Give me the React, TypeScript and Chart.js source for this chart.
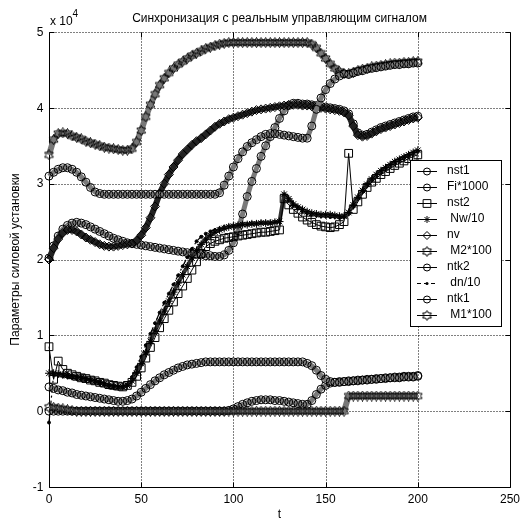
import React, { useEffect, useRef } from 'react';
import { Chart, registerables } from 'chart.js';

Chart.register(...registerables);

// ---------- data (values in units of 10^4) ----------
const T = [
  0, 2.5, 5, 7.5, 10, 12.5, 15, 17.5, 20, 22.5,
  25, 27.5, 30, 32.5, 35, 37.5, 40, 42.5, 45, 47.5,
  50, 52.5, 55, 57.5, 60, 62.5, 65, 67.5, 70, 72.5,
  75, 77.5, 80, 82.5, 85, 87.5, 90, 92.5, 95, 97.5,
  100, 102.5, 105, 107.5, 110, 112.5, 115, 117.5, 120, 122.5,
  125, 127.5, 130, 132.5, 135, 137.5, 140, 142.5, 145, 147.5,
  150, 152.5, 155, 157.5, 160, 162.5, 165, 167.5, 170, 172.5,
  175, 177.5, 180, 182.5, 185, 187.5, 190, 192.5, 195, 197.5,
  200,
];

const NST1 = [
  3.10, 3.15, 3.19, 3.21, 3.21, 3.19, 3.15, 3.09, 3.02, 2.95,
  2.89, 2.87, 2.86, 2.86, 2.86, 2.86, 2.86, 2.86, 2.86, 2.86,
  2.86, 2.86, 2.86, 2.86, 2.86, 2.86, 2.86, 2.86, 2.86, 2.86,
  2.86, 2.86, 2.86, 2.86, 2.86, 2.86, 2.86, 2.88, 2.98, 3.10,
  3.22, 3.33, 3.42, 3.49, 3.54, 3.58, 3.62, 3.65, 3.66, 3.66,
  3.65, 3.64, 3.63, 3.62, 3.61, 3.60, 3.60, 3.76, 3.98, 4.13,
  4.24, 4.32, 4.38, 4.42, 4.45, 4.44, 4.46, 4.48, 4.49, 4.51,
  4.52, 4.53, 4.54, 4.55, 4.56, 4.57, 4.57, 4.58, 4.58, 4.59,
  4.59,
];

const FI1000 = [
  0.32, 0.30, 0.28, 0.27, 0.25, 0.24, 0.22, 0.21, 0.20, 0.19,
  0.18, 0.17, 0.16, 0.15, 0.14, 0.13, 0.13, 0.14, 0.16, 0.20,
  0.25, 0.30, 0.35, 0.40, 0.44, 0.48, 0.51, 0.54, 0.57, 0.59,
  0.61, 0.62, 0.63, 0.64, 0.65, 0.65, 0.65, 0.65, 0.65, 0.65,
  0.65, 0.65, 0.65, 0.65, 0.65, 0.65, 0.65, 0.65, 0.65, 0.65,
  0.65, 0.65, 0.65, 0.65, 0.65, 0.65, 0.63, 0.60, 0.54, 0.47,
  0.42, 0.39, 0.38, 0.38, 0.39, 0.39, 0.40, 0.40, 0.41, 0.41,
  0.42, 0.42, 0.43, 0.43, 0.44, 0.44, 0.44, 0.45, 0.45, 0.45,
  0.46,
];

const NST2 = [
  0.85, 0.42, 0.66, 0.55, 0.50, 0.48, 0.46, 0.44, 0.43, 0.41,
  0.40, 0.38, 0.37, 0.35, 0.34, 0.33, 0.32, 0.34, 0.38, 0.46,
  0.57, 0.70, 0.84, 0.97, 1.10, 1.22, 1.33, 1.44, 1.55, 1.65,
  1.75, 1.86, 1.97, 2.08, 2.17, 2.21, 2.24, 2.26, 2.28, 2.29,
  2.30, 2.31, 2.32, 2.33, 2.34, 2.35, 2.36, 2.36, 2.37, 2.38,
  2.39, 2.80, 2.72, 2.66, 2.61, 2.56, 2.52, 2.49, 2.46, 2.44,
  2.43, 2.42, 2.43, 2.46, 2.50, 3.40, 2.66, 2.76, 2.86, 2.95,
  3.02, 3.07, 3.12, 3.16, 3.20, 3.24, 3.27, 3.30, 3.33, 3.36,
  3.38,
];

const NW10 = [
  0.50, 0.50, 0.49, 0.48, 0.47, 0.46, 0.45, 0.44, 0.43, 0.41,
  0.40, 0.38, 0.36, 0.34, 0.33, 0.32, 0.32, 0.34, 0.40, 0.50,
  0.63, 0.77, 0.92, 1.06, 1.19, 1.32, 1.45, 1.57, 1.69, 1.80,
  1.91, 2.02, 2.12, 2.20, 2.27, 2.32, 2.36, 2.39, 2.41, 2.43,
  2.44, 2.45, 2.46, 2.46, 2.47, 2.47, 2.48, 2.48, 2.48, 2.49,
  2.50, 2.86, 2.80, 2.73, 2.69, 2.66, 2.63, 2.61, 2.60, 2.59,
  2.59, 2.59, 2.58, 2.57, 2.57, 2.62, 2.72, 2.82, 2.91, 2.99,
  3.06, 3.12, 3.17, 3.21, 3.25, 3.29, 3.32, 3.35, 3.38, 3.41,
  3.44,
];

const NV = [
  2.00, 2.15, 2.27, 2.35, 2.39, 2.39, 2.37, 2.33, 2.29, 2.26,
  2.23, 2.20, 2.18, 2.17, 2.17, 2.18, 2.19, 2.20, 2.21, 2.25,
  2.32, 2.42, 2.55, 2.70, 2.87, 3.00, 3.12, 3.22, 3.31, 3.39,
  3.45, 3.51, 3.56, 3.60, 3.65, 3.70, 3.75, 3.79, 3.82, 3.85,
  3.87, 3.89, 3.91, 3.93, 3.95, 3.97, 3.98, 3.99, 4.00, 4.01,
  4.02, 4.03, 4.04, 4.04, 4.04, 4.03, 4.03, 4.02, 4.01, 4.00,
  3.99, 3.98, 3.97, 3.96, 3.94, 3.90, 3.76, 3.64, 3.62, 3.63,
  3.66, 3.69, 3.72, 3.74, 3.76, 3.78, 3.80, 3.82, 3.84, 3.86,
  3.87,
];

const M2_100 = [
  0.05, 0.05, 0.04, 0.03, 0.02, 0.01, 0, 0, 0, 0,
  0, 0, 0, 0, 0, 0, 0, 0, 0, 0,
  0, 0, 0, 0, 0, 0, 0, 0, 0, 0,
  0, 0, 0, 0, 0, 0, 0, 0, 0, 0,
  0, 0, 0, 0, 0, 0, 0, 0, 0, 0,
  0, 0, 0, 0, 0, 0, 0, 0, 0, 0,
  0, 0, 0, 0, 0, 0.20, 0.20, 0.20, 0.20, 0.20,
  0.20, 0.20, 0.20, 0.20, 0.20, 0.20, 0.20, 0.20, 0.20, 0.20,
  0.20,
];

const NTK2 = [
  0, 0, 0, 0, 0, 0, 0, 0, 0, 0,
  0, 0, 0, 0, 0, 0, 0, 0, 0, 0,
  0, 0, 0, 0, 0, 0, 0, 0, 0, 0,
  0, 0, 0, 0, 0, 0, 0, 0, 0, 0.01,
  0.03, 0.06, 0.09, 0.11, 0.13, 0.14, 0.15, 0.15, 0.15, 0.14,
  0.14, 0.13, 0.12, 0.11, 0.10, 0.09, 0.09, 0.14, 0.22, 0.29,
  0.34, 0.37, 0.38, 0.39, 0.39, 0.40, 0.40, 0.41, 0.41, 0.42,
  0.42, 0.43, 0.43, 0.44, 0.44, 0.45, 0.45, 0.46, 0.46, 0.46,
  0.47,
];

const DN10 = [
  -0.15, 0.48, 0.47, 0.46, 0.45, 0.44, 0.43, 0.42, 0.41, 0.40,
  0.38, 0.36, 0.35, 0.33, 0.32, 0.31, 0.31, 0.35, 0.45, 0.58,
  0.72, 0.87, 1.02, 1.16, 1.30, 1.43, 1.55, 1.67, 1.79, 1.91,
  2.03, 2.14, 2.24, 2.30, 2.34, 2.37, 2.39, 2.41, 2.43, 2.44,
  2.45, 2.46, 2.47, 2.47, 2.48, 2.48, 2.49, 2.49, 2.49, 2.50,
  2.51, 2.84, 2.78, 2.72, 2.68, 2.64, 2.61, 2.59, 2.58, 2.57,
  2.57, 2.56, 2.56, 2.55, 2.56, 2.60, 2.70, 2.80, 2.89, 2.97,
  3.04, 3.10, 3.15, 3.20, 3.24, 3.28, 3.31, 3.34, 3.37, 3.40,
  3.43,
];

const NTK1 = [
  2.02, 2.18, 2.31, 2.40, 2.45, 2.48, 2.49, 2.48, 2.46, 2.43,
  2.40, 2.37, 2.34, 2.31, 2.28, 2.26, 2.24, 2.22, 2.21, 2.20,
  2.19, 2.18, 2.17, 2.16, 2.15, 2.14, 2.13, 2.12, 2.11, 2.10,
  2.09, 2.08, 2.07, 2.06, 2.05, 2.05, 2.04, 2.04, 2.06, 2.12,
  2.22, 2.38, 2.60, 2.83, 3.03, 3.20, 3.36, 3.50, 3.62, 3.74,
  3.86, 3.96, 4.03, 4.06, 4.06, 4.05, 4.05, 4.04, 4.03, 4.02,
  4.01, 4.00, 3.99, 3.98, 3.96, 3.92, 3.79, 3.67, 3.64, 3.65,
  3.68, 3.71, 3.74, 3.76, 3.78, 3.80, 3.82, 3.84, 3.86, 3.88,
  3.89,
];

const M1_100 = [
  3.38, 3.58, 3.66, 3.67, 3.66, 3.63, 3.61, 3.59, 3.56, 3.54,
  3.52, 3.50, 3.48, 3.47, 3.46, 3.45, 3.44, 3.44, 3.46, 3.55,
  3.70, 3.88, 4.04, 4.18, 4.30, 4.39, 4.46, 4.52, 4.57, 4.61,
  4.65, 4.69, 4.72, 4.75, 4.78, 4.80, 4.82, 4.84, 4.85, 4.86,
  4.86, 4.86, 4.86, 4.86, 4.86, 4.86, 4.86, 4.86, 4.86, 4.86,
  4.86, 4.86, 4.86, 4.86, 4.86, 4.86, 4.86, 4.84, 4.79, 4.72,
  4.65, 4.58, 4.52, 4.48, 4.45, 4.45, 4.47, 4.49, 4.51, 4.52,
  4.54, 4.55, 4.56, 4.57, 4.58, 4.59, 4.59, 4.60, 4.60, 4.61,
  4.61,
];

const X_TICKS = [0, 50, 100, 150, 200, 250];
const Y_TICKS = [-1, 0, 1, 2, 3, 4, 5];
const TITLE = 'Синхронизация с реальным управляющим сигналом';
const X_LABEL = 't';
const Y_LABEL = 'Параметры силовой установки';
const LEGEND_NAMES = ['nst1', 'Fi*1000', 'nst2', ' Nw/10', 'nv', ' M2*100', 'ntk2', ' dn/10', 'ntk1', ' M1*100'];
const SERIES = [NST1, FI1000, NST2, NW10, NV, M2_100, NTK2, DN10, NTK1, M1_100];

// ---------- styling ----------
type Mk = 'circle' | 'rect' | 'star' | 'rectRot' | 'hex' | 'dot';
const MARKERS: Mk[] = ['circle', 'circle', 'rect', 'star', 'rectRot', 'hex', 'circle', 'dot', 'circle', 'hex'];
const RADII = [4, 4, 5.5, 4, 4.5, 5, 4, 1.5, 4, 5];
const BAND = ['#7a7a7a', '#7a7a7a', '#000', '#333', '#222', '#777', '#7a7a7a', '#000', '#7a7a7a', '#777'];
const BAND_W = [5, 5, 1, 4, 6, 6, 5, 1.2, 5, 6];
const FONT = '"Liberation Sans", Arial, sans-serif';

function makeHexagram(): HTMLCanvasElement {
  const c = document.createElement('canvas');
  c.width = 11;
  c.height = 11;
  const g = c.getContext('2d')!;
  g.strokeStyle = '#000';
  g.lineWidth = 1;
  g.beginPath();
  for (let k = 0; k < 12; k++) {
    const r = k % 2 === 0 ? 5 : 2.9;
    const a = -Math.PI / 2 + (k * Math.PI) / 6;
    const px = 5.5 + r * Math.cos(a);
    const py = 5.5 + r * Math.sin(a);
    if (k === 0) g.moveTo(px, py);
    else g.lineTo(px, py);
  }
  g.closePath();
  g.stroke();
  return c;
}

function drawMarker(ctx: CanvasRenderingContext2D, mk: Mk, x: number, y: number, r: number, hex: HTMLCanvasElement) {
  ctx.save();
  ctx.strokeStyle = '#000';
  ctx.fillStyle = '#000';
  ctx.lineWidth = 1;
  ctx.setLineDash([]);
  ctx.beginPath();
  if (mk === 'circle') {
    ctx.arc(x, y, r, 0, Math.PI * 2);
    ctx.stroke();
  } else if (mk === 'dot') {
    ctx.arc(x, y, r, 0, Math.PI * 2);
    ctx.fill();
  } else if (mk === 'rect') {
    const s = Math.SQRT1_2 * r;
    ctx.rect(x - s, y - s, 2 * s, 2 * s);
    ctx.stroke();
  } else if (mk === 'rectRot') {
    ctx.moveTo(x - r, y);
    ctx.lineTo(x, y - r);
    ctx.lineTo(x + r, y);
    ctx.lineTo(x, y + r);
    ctx.closePath();
    ctx.stroke();
  } else if (mk === 'star') {
    ctx.moveTo(x - r, y);
    ctx.lineTo(x + r, y);
    ctx.moveTo(x, y - r);
    ctx.lineTo(x, y + r);
    const d = r * Math.SQRT1_2;
    ctx.moveTo(x - d, y - d);
    ctx.lineTo(x + d, y + d);
    ctx.moveTo(x - d, y + d);
    ctx.lineTo(x + d, y - d);
    ctx.stroke();
  } else if (mk === 'hex') {
    ctx.drawImage(hex, x - hex.width / 2, y - hex.height / 2);
  }
  ctx.restore();
}

export default function App() {
  const ref = useRef<HTMLCanvasElement | null>(null);

  useEffect(() => {
    if (!ref.current) return;
    const hex = makeHexagram();

    const datasets = SERIES.map((vals, k) => {
      const mk = MARKERS[k];
      const pointStyle: any = mk === 'hex' ? hex : mk === 'dot' ? 'circle' : mk;
      return {
        label: LEGEND_NAMES[k].trim(),
        data: T.map((t, i) => ({ x: t, y: vals[i] })),
        borderColor: BAND[k],
        borderWidth: BAND_W[k],
        borderDash: k === 7 ? [7, 3, 2, 3] : [],
        borderJoinStyle: 'round' as any,
        pointStyle,
        pointRadius: RADII[k],
        pointHoverRadius: RADII[k],
        pointBorderColor: '#000',
        pointBorderWidth: 1,
        pointBackgroundColor: mk === 'dot' ? '#000' : 'rgba(0,0,0,0)',
        tension: 0,
        fill: false,
        clip: false as any,
      };
    });

    const matlabAxes = {
      id: 'matlabAxes',
      beforeDatasetsDraw(chart: any) {
        const { ctx, chartArea } = chart;
        const xs = chart.scales.x;
        const ys = chart.scales.y;
        const L = Math.round(chartArea.left) + 0.5;
        const R = Math.round(chartArea.right) + 0.5;
        const Tp = Math.round(chartArea.top) + 0.5;
        const B = Math.round(chartArea.bottom) + 0.5;
        ctx.save();
        ctx.fillStyle = '#fff';
        ctx.fillRect(0, 0, chart.width, chart.height);
        ctx.strokeStyle = '#000';
        ctx.lineWidth = 1;
        ctx.setLineDash([1, 2]);
        X_TICKS.slice(1, -1).forEach((v) => {
          const px = Math.round(xs.getPixelForValue(v)) + 0.5;
          ctx.beginPath();
          ctx.moveTo(px, Tp);
          ctx.lineTo(px, B);
          ctx.stroke();
        });
        Y_TICKS.slice(1).forEach((v) => {
          const py = Math.round(ys.getPixelForValue(v)) + 0.5;
          ctx.beginPath();
          ctx.moveTo(L, py);
          ctx.lineTo(R, py);
          ctx.stroke();
        });
        ctx.setLineDash([]);
        ctx.beginPath();
        ctx.moveTo(L, Tp);
        ctx.lineTo(L, B);
        ctx.lineTo(R, B);
        ctx.lineTo(R, Tp);
        ctx.stroke();
        const tl = 5;
        X_TICKS.forEach((v) => {
          const px = Math.round(xs.getPixelForValue(v)) + 0.5;
          ctx.beginPath();
          ctx.moveTo(px, B);
          ctx.lineTo(px, B - tl);
          ctx.moveTo(px, Tp);
          ctx.lineTo(px, Tp + tl);
          ctx.stroke();
        });
        Y_TICKS.forEach((v) => {
          const py = Math.round(ys.getPixelForValue(v)) + 0.5;
          ctx.beginPath();
          ctx.moveTo(L, py);
          ctx.lineTo(L + tl, py);
          ctx.moveTo(R, py);
          ctx.lineTo(R - tl, py);
          ctx.stroke();
        });
        ctx.restore();
      },
      afterDraw(chart: any) {
        const { ctx, chartArea } = chart;
        const xs = chart.scales.x;
        const ys = chart.scales.y;
        const cx = (chartArea.left + chartArea.right) / 2;
        const cy = (chartArea.top + chartArea.bottom) / 2;
        ctx.save();
        ctx.fillStyle = '#000';
        ctx.font = `12px ${FONT}`;
        ctx.textAlign = 'right';
        ctx.textBaseline = 'middle';
        Y_TICKS.forEach((v) => {
          ctx.fillText(String(v), chartArea.left - 5.5, ys.getPixelForValue(v) + 0.5);
        });
        ctx.textAlign = 'center';
        ctx.textBaseline = 'alphabetic';
        X_TICKS.forEach((v) => {
          ctx.fillText(String(v), xs.getPixelForValue(v), 503);
        });
        ctx.fillText(X_LABEL, cx, 518);
        ctx.fillText(TITLE, cx, 21.5);
        ctx.save();
        ctx.translate(19, cy);
        ctx.rotate(-Math.PI / 2);
        ctx.textAlign = 'center';
        ctx.fillText(Y_LABEL, 0, 0);
        ctx.restore();
        ctx.textAlign = 'left';
        ctx.fillText('x 10', 50, 25);
        ctx.font = `10px ${FONT}`;
        ctx.fillText('4', 72.5, 17);
        // legend
        const bx = 410.5, by = 160.5, bw = 91, bh = 166;
        ctx.fillStyle = '#fff';
        ctx.fillRect(bx, by, bw, bh);
        ctx.strokeStyle = '#000';
        ctx.lineWidth = 1;
        ctx.strokeRect(bx, by, bw, bh);
        ctx.font = `12px ${FONT}`;
        ctx.textBaseline = 'middle';
        LEGEND_NAMES.forEach((name, k) => {
          const yy = 170.5 + k * 16;
          ctx.strokeStyle = '#000';
          ctx.lineWidth = 1;
          ctx.setLineDash(k === 7 ? [4, 3] : []);
          ctx.beginPath();
          ctx.moveTo(417, Math.round(yy) + 0.5);
          ctx.lineTo(437, Math.round(yy) + 0.5);
          ctx.stroke();
          ctx.setLineDash([]);
          const r = k === 2 ? 5.5 : k === 7 ? 1.5 : MARKERS[k] === 'rectRot' ? 4 : 3.5;
          drawMarker(ctx, MARKERS[k], 427, Math.round(yy) + 0.5, r, hex);
          ctx.fillStyle = '#000';
          ctx.textAlign = 'left';
          ctx.fillText(name, 447, yy + 0.5);
        });
        ctx.restore();
      },
    };

    const chart = new Chart(ref.current, {
      type: 'line',
      data: { datasets: datasets as any },
      options: {
        animation: false,
        responsive: false,
        maintainAspectRatio: false,
        events: [],
        layout: { padding: { left: 49, top: 32, right: 17, bottom: 32 } },
        scales: {
          x: { type: 'linear', min: 0, max: 250, display: false },
          y: { type: 'linear', min: -1, max: 5, display: false },
        },
        plugins: {
          legend: { display: false },
          tooltip: { enabled: false },
          title: { display: false },
        },
      },
      plugins: [matlabAxes],
    });
    return () => chart.destroy();
  }, []);

  return (
    <div style={{ position: 'absolute', left: 0, top: 0, width: 527, height: 519, background: '#fff' }}>
      <canvas ref={ref} width={527} height={519} style={{ display: 'block', width: 527, height: 519 }} />
    </div>
  );
}
